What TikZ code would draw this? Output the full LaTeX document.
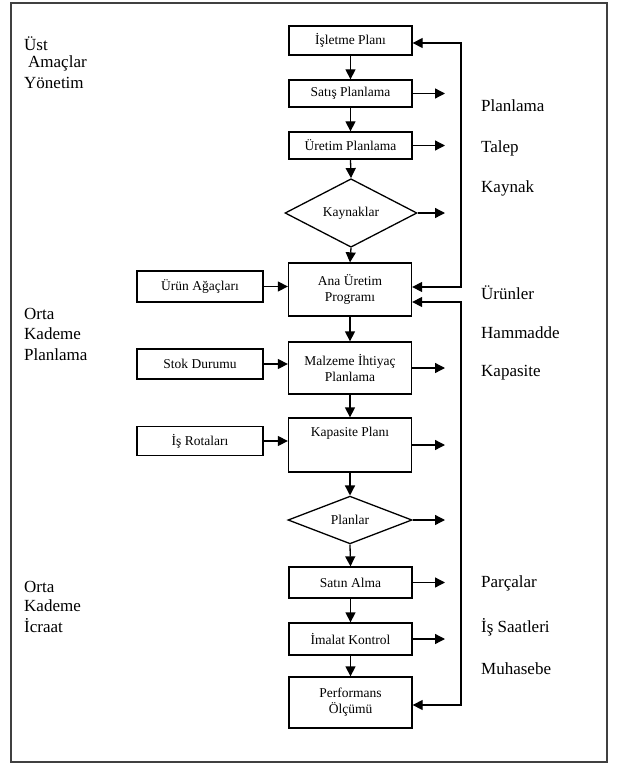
\documentclass[tikz,border=0pt]{standalone}
\usepackage{fontspec}
\setmainfont{Liberation Serif}
\usetikzlibrary{shapes.geometric,arrows.meta}

\begin{document}
\begin{tikzpicture}[x=1pt,y=-1pt,
  box/.style={draw,line width=1.3pt,minimum width=123pt,inner sep=0pt,align=center,
    font=\fontsize{13.5}{16}\selectfont},
  decision/.style={draw,diamond,line width=1.3pt,inner sep=0pt,
    font=\fontsize{13.5}{16}\selectfont},
  arr/.style={line width=1.3pt,-{Triangle[length=10pt,width=10pt]}},
  twoway/.style={line width=1.3pt,{Triangle[length=10pt,width=10pt]}-{Triangle[length=10pt,width=10pt]}},
  side/.style={anchor=west,inner sep=0pt,font=\fontsize{17}{19}\selectfont}
]
\useasboundingbox (0,0) rectangle (616,765);
\draw[line width=1.6pt,black!75] (11,3) rectangle (607,762);

% main column
\node[box,minimum height=29pt] (isl) at (350.5,40.5) {İşletme Planı};
\node[box,minimum height=27pt] (sat) at (350.5,93.5) {Satış Planlama};
\node[box,minimum height=27pt] (ure) at (350.5,145.5) {Üretim Planlama};
\node[decision,minimum width=132pt,minimum height=50pt] (kay) at (351,213) {Kaynaklar};
\node[box,minimum height=53pt] (ana) at (350,289.5) {Ana Üretim\\Programı};
\node[box,minimum height=52pt] (mal) at (350,368) {Malzeme İhtiyaç\\Planlama};
\node[box,minimum height=54pt,label={[anchor=north,inner sep=0pt,yshift=-10pt,font=\fontsize{13.5}{16}\selectfont]north:Kapasite Planı}] (kap) at (350,445) {};
\node[decision,minimum width=124pt,minimum height=46pt] (pla) at (350,520) {Planlar};
\node[box,minimum height=31pt] (sal) at (350.5,582.5) {Satın Alma};
\node[box,minimum height=32pt] (ima) at (350.5,639) {İmalat Kontrol};
\node[box,minimum height=51pt] (per) at (350.5,702.5) {Performans\\Ölçümü};

% inputs on the left
\node[box,minimum width=126pt,minimum height=31pt] (urun) at (200,286.5) {Ürün Ağaçları};
\node[box,minimum width=126pt,minimum height=30pt] (stok) at (200,364) {Stok Durumu};
\node[box,minimum width=126pt,minimum height=29pt] (isr) at (200,441) {İş Rotaları};

% downward flow
\foreach \a/\b in {isl/sat,sat/ure,ure/kay,kay/ana,ana/mal,mal/kap,kap/pla,pla/sal,sal/ima,ima/per}
  \draw[arr] (\a.south) -- (\b.north);

% inputs
\draw[arr] (urun.east) -- (urun.east -| ana.west);
\draw[arr] (stok.east) -- (stok.east -| mal.west);
\draw[arr] (isr.east) -- (isr.east -| kap.west);

% outputs to the right
\coordinate (out) at (445,0);
\foreach \n in {sat,ure,kay,mal,kap,pla,sal,ima}
  \draw[arr] (\n.east) -- (\n.east -| out);

% feedback loops
\coordinate (fb) at (461,0);
\coordinate (a1) at ([yshift=2.5pt]ana.east);
\coordinate (a2) at ([yshift=-12.5pt]ana.east);
\coordinate (i1) at ([yshift=-2.5pt]isl.east);
\coordinate (p1) at ([yshift=-2.5pt]per.east);
\draw[twoway] (a1) -- (a1 -| fb) -- (i1 -| fb) -- (i1);
\draw[twoway] (a2) -- (a2 -| fb) -- (p1 -| fb) -- (p1);

% right-hand labels
\node[side] (t1) at (481,106) {Planlama};
\node[side] (t2) at (481,148) {Talep};
\node[side] (t3) at (481,188) {Kaynak};
\node[side] (t4) at (481,293) {Ürünler};
\node[side] (t5) at (481,333) {Hammadde};
\node[side] (t6) at (481,373) {Kapasite};
\node[side] (t7) at (481,583) {Parçalar};
\node[side] (t8) at (481,627) {İş Saatleri};
\node[side] (t9) at (481,669) {Muhasebe};

% left-hand level labels
\node[side] (l1) at (24,44) {Üst};
\node[side] (l2) at (28,63) {Amaçlar};
\node[side] (l3) at (24,83) {Yönetim};
\node[side] (l4) at (24,314) {Orta};
\node[side] (l5) at (24,334) {Kademe};
\node[side] (l6) at (24,355) {Planlama};
\node[side] (l7) at (24,587) {Orta};
\node[side] (l8) at (24,606) {Kademe};
\node[side] (l9) at (24,626) {İcraat};
\end{tikzpicture}
\end{document}
